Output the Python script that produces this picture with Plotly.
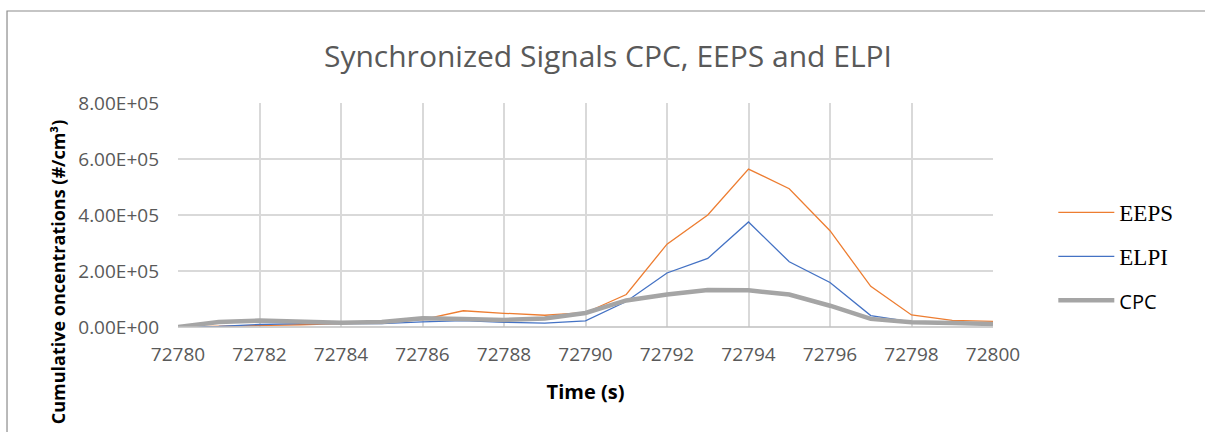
import plotly.graph_objects as go

time = list(range(72780, 72801))
eeps = [0, 2000, 6000, 8000, 12000, 15000, 26000, 58000, 49000, 42000, 51000,
        116000, 296000, 400000, 564000, 494000, 344000, 145000, 43000, 24000, 20000]
elpi = [0, 2000, 9000, 12000, 12000, 12000, 18000, 23000, 17000, 14000, 22000,
        91000, 193000, 245000, 375000, 233000, 159000, 41000, 18000, 12000, 10000]
cpc = [0, 18000, 23000, 21000, 15000, 18000, 31000, 29000, 25000, 30000, 50000,
       95000, 116000, 132000, 131000, 116000, 76000, 29000, 17000, 14000, 11000]

x_ticks = list(range(72780, 72801, 2))
y_ticks = [0, 200000, 400000, 600000, 800000]
y_labels = ["0.00E+00", "2.00E+05", "4.00E+05", "6.00E+05", "8.00E+05"]

fig = go.Figure()
fig.add_trace(go.Scatter(x=time, y=eeps, mode="lines", name="EEPS",
                         line=dict(color="#ED7D31", width=1.3), legendgroup="a"))
fig.add_trace(go.Scatter(x=time, y=elpi, mode="lines", name="ELPI",
                         line=dict(color="#4472C4", width=1.3), legendgroup="b"))
fig.add_trace(go.Scatter(x=time, y=cpc, mode="lines",
                         name="<span style='font-family:Open Sans;font-size:20px'>CPC</span>",
                         line=dict(color="#A5A5A5", width=4.5), legendgroup="c"))

fig.update_layout(
    width=1205, height=432,
    margin=dict(l=178, r=212, t=103, b=105),
    paper_bgcolor="white", plot_bgcolor="white",
    title=dict(text="Synchronized Signals CPC, EEPS and ELPI", x=0.5276, xref="paper",
               xanchor="center", y=1 - 56 / 432, yanchor="middle",
               font=dict(family="Open Sans", size=30, color="#595959")),
    xaxis=dict(range=[72780, 72800], tickvals=x_ticks, ticktext=[str(v) for v in x_ticks],
               showgrid=True, gridcolor="#d9d9d9", gridwidth=1.5,
               zeroline=False, showline=False, ticks="", ticklabelstandoff=14,
               tickfont=dict(family="Open Sans", size=19, color="#595959"),
               title=dict(text="<b>Time (s)</b>", standoff=18,
                          font=dict(family="Open Sans", size=20, color="black"))),
    yaxis=dict(range=[0, 800000], tickvals=y_ticks, ticktext=y_labels,
               showgrid=True, gridcolor="#d9d9d9", gridwidth=1.5,
               zeroline=False, showline=False, ticks="", ticklabelstandoff=18,
               tickfont=dict(family="Open Sans", size=19, color="#595959")),
    legend=dict(x=1.074, y=0.315, xanchor="left", yanchor="middle",
                font=dict(family="Liberation Serif", size=23, color="black"),
                traceorder="grouped", tracegroupgap=11, itemwidth=56,
                bgcolor="rgba(0,0,0,0)"),
    annotations=[dict(text="<b>Cumulative oncentrations (#/cm³)</b>", textangle=-90,
                      x=-0.147, y=0.2455, xref="paper", yref="paper",
                      showarrow=False, xanchor="center", yanchor="middle",
                      font=dict(family="Open Sans", size=18, color="black"))],
    shapes=[dict(type="line", xref="paper", yref="paper", x0=0, x1=1, y0=0, y1=0,
                 line=dict(color="#bfbfbf", width=1.5)),
            dict(type="rect", xref="paper", yref="paper", x0=-0.2098, x1=1.5,
                 y0=-0.7, y1=1.4107, line=dict(color="#8c8c8c", width=1.2),
                 layer="below")],
    showlegend=True,
)

fig.write_html("out.html")
